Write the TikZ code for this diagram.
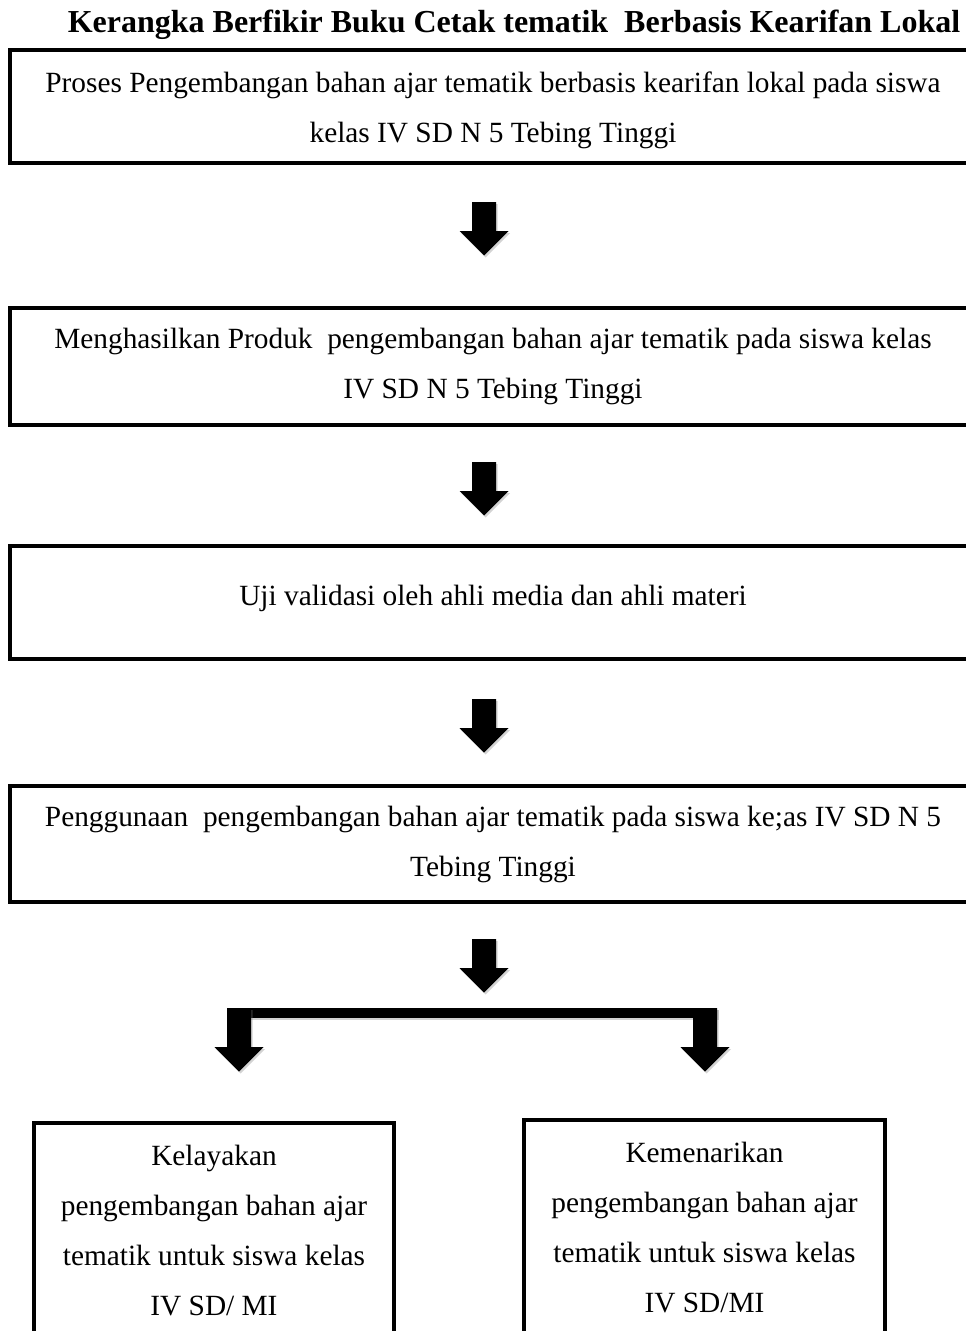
\documentclass[tikz,border=0pt]{standalone}
\usepackage{fontspec}
\setmainfont{Liberation Serif}
\usetikzlibrary{shadows,calc}
\begin{document}
\begin{tikzpicture}[x=0.75pt,y=-0.75pt,
  txt/.style={font=\fontsize{22}{37.5}\selectfont, align=center, inner sep=0pt},
  box/.style={draw, line width=3pt, fill=white, inner sep=0pt, align=center, txt,
    drop shadow={shadow xshift=1pt, shadow yshift=-1pt, opacity=0.3}},
  bigbox/.style={box, minimum width=724.5pt},
  arr/.style={fill=black, drop shadow={shadow xshift=1.2pt, shadow yshift=-1.5pt, opacity=0.35}},
  pics/downarr/.style={code={
    \fill[arr] (-12,0) -- (12,0) -- (12,#1) -- (24.5,#1) -- (0,#1+24.5) -- (-24.5,#1) -- (-12,#1) -- cycle;}}
]
\useasboundingbox (0,0) rectangle (966,1331);
\clip (0,0) rectangle (966,1331);

\node[font=\bfseries\fontsize{24}{28}\selectfont] (title) at (514,25)
  {Kerangka Berfikir Buku Cetak tematik\ \ Berbasis Kearifan Lokal};

\node[bigbox, minimum height=84.75pt] (b1) at (493,106.5) {};
\node[txt] (t1) at ($(b1.center)+(0,4)$)
  {Proses Pengembangan bahan ajar tematik berbasis kearifan lokal pada siswa\\ kelas IV SD N 5 Tebing Tinggi};
\node[bigbox, minimum height=87.75pt] (b2) at (493,366.5)
  {Menghasilkan Produk\ \ pengembangan bahan ajar tematik pada siswa kelas\\ IV SD N 5 Tebing Tinggi};
\node[bigbox, minimum height=84.75pt] (b3) at (493,602.5) {};
\node[txt] (t3) at ($(b3.center)+(0,-4)$)
  {Uji validasi oleh ahli media dan ahli materi};
\node[bigbox, minimum height=87pt] (b4) at (493,844)
  {Penggunaan\ \ pengembangan bahan ajar tematik pada siswa ke;as IV SD N 5\\ Tebing Tinggi};

\node[box, minimum width=270pt, minimum height=162pt] (bl) at (214,1231)
  {Kelayakan\\ pengembangan bahan ajar\\ tematik untuk siswa kelas\\ IV SD/ MI};
\node[box, minimum width=270.75pt, minimum height=162pt] (br) at (704.5,1228)
  {Kemenarikan\\ pengembangan bahan ajar\\ tematik untuk siswa kelas\\ IV SD/MI};

\pic at ($(b1.south)+(-9,37)$) {downarr=29};
\pic at ($(b2.south)+(-9,35)$) {downarr=29};
\pic at ($(b3.south)+(-9,38)$) {downarr=29};
\pic at ($(b4.south)+(-9,35)$) {downarr=29};

\coordinate (sl) at (239,1008);
\coordinate (sr) at (705,1008);
\fill[arr] ($(sl)+(-12,0)$) rectangle ($(sr)+(12,10)$);
\pic at (sl) {downarr=39};
\pic at (sr) {downarr=39};
\end{tikzpicture}
\end{document}
